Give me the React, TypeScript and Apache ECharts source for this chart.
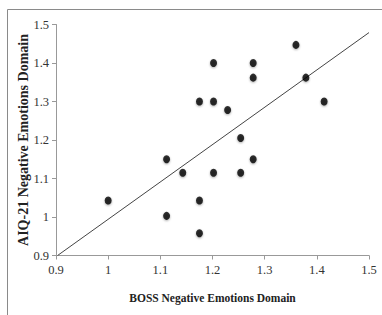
import React, { useEffect, useRef } from "react";
import * as echarts from "echarts";

const bossValues = [1.0, 1.112, 1.112, 1.143, 1.175, 1.175, 1.175, 1.202, 1.202, 1.202, 1.229, 1.254, 1.254, 1.278, 1.278, 1.278, 1.36, 1.379, 1.414];
const aiqValues = [1.043, 1.15, 1.003, 1.115, 1.3, 1.043, 0.958, 1.4, 1.3, 1.115, 1.278, 1.205, 1.115, 1.4, 1.362, 1.15, 1.447, 1.362, 1.3];
const fitX = [0.903, 1.5];
const fitY = [0.9, 1.479];
const xTitle = "BOSS Negative Emotions Domain";
const yTitle = "AIQ-21 Negative Emotions Domain";

export default function App() {
  const ref = useRef<HTMLDivElement>(null);
  useEffect(() => {
    if (!ref.current) return;
    const chart = echarts.init(ref.current, null, { renderer: "svg" });
    const labelStyle = { color: "#333", fontFamily: "'Liberation Serif', serif", fontSize: 12.5 };
    chart.setOption({
      animation: false,
      backgroundColor: "#fff",
      graphic: [
        {
          type: "rect",
          shape: { x: 7.5, y: 9.5, width: 400, height: 400 },
          style: { fill: "none", stroke: "#8a8a8a", lineWidth: 1 },
          silent: true,
        },
      ],
      grid: { left: 56, top: 24.5, right: 13, bottom: 59.5 },
      xAxis: {
        type: "value",
        min: 0.9,
        max: 1.5,
        interval: 0.1,
        name: xTitle,
        nameLocation: "middle",
        nameGap: 36,
        nameMoveOverlap: false,
        nameTextStyle: { color: "#222", fontFamily: "'Liberation Serif', serif", fontWeight: "bold", fontSize: 11.5 },
        axisLine: { lineStyle: { color: "#999" } },
        axisTick: { show: true, length: 4, lineStyle: { color: "#999" } },
        axisLabel: { ...labelStyle, margin: 8, formatter: (v: number) => String(Math.round(v * 10) / 10) },
        splitLine: { show: false },
      },
      yAxis: {
        type: "value",
        min: 0.9,
        max: 1.5,
        interval: 0.1,
        name: yTitle,
        nameLocation: "middle",
        nameGap: 26,
        nameMoveOverlap: false,
        nameTextStyle: { color: "#222", fontFamily: "'Liberation Serif', serif", fontWeight: "bold", fontSize: 14 },
        axisLine: { show: true, lineStyle: { color: "#999" } },
        axisTick: { show: true, length: 4, lineStyle: { color: "#999" } },
        axisLabel: { ...labelStyle, margin: 7, formatter: (v: number) => String(Math.round(v * 10) / 10) },
        splitLine: { show: false },
      },
      series: [
        {
          type: "line",
          data: fitX.map((x, i) => [x, fitY[i]]),
          symbol: "none",
          lineStyle: { color: "#444", width: 1 },
          silent: true,
          z: 1,
        },
        {
          type: "scatter",
          data: bossValues.map((x, i) => [x, aiqValues[i]]),
          symbol: "circle",
          symbolSize: [7, 8],
          itemStyle: { color: "#000", shadowBlur: 2, shadowColor: "rgba(0,0,0,0.4)", shadowOffsetY: 1 },
          z: 2,
        },
      ],
    });
    return () => chart.dispose();
  }, []);
  return <div ref={ref} style={{ position: "fixed", left: 0, top: 0, width: 382, height: 315 }} />;
}
